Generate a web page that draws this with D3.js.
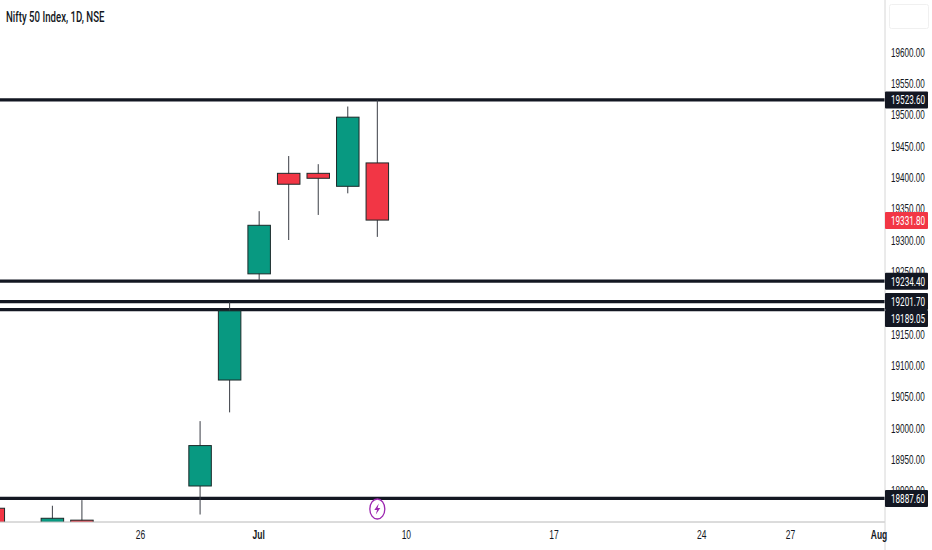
<!DOCTYPE html>
<html>
<head>
<meta charset="utf-8">
<script src="https://cdn.jsdelivr.net/npm/d3@7.9.0/dist/d3.min.js"></script>
<style>
  html, body { margin: 0; padding: 0; background: #fff; overflow: hidden; }
  svg { display: block; font-family: Roboto, sans-serif; }
</style>
</head>
<body>
<svg id="chart" width="932" height="550"></svg>
<script>
const title = 'Nifty 50 Index, 1D, NSE';

// bar number counted from the 26 tick, only bars that show in the window
const barIndex = [-5, -3, -2, 2, 3, 4, 5, 6, 7, 8];
const opens = [18872, 18820, 18853, 18907.5, 19076.6, 19246, 19406.4, 19406.4, 19385.7, 19423];
const closes = [18790, 18856, 18810, 18972, 19187, 19323.5, 19389, 19398.5, 19496, 19331.8];
const highs = [18880, 18876, 18885, 19011, 19201, 19346, 19434, 19421, 19513, 19523.6];
const lows = [18760, 18800, 18790, 18862, 19025, 19236, 19300, 19340, 19374.5, 19305];

const levels = [19523.6, 19234.4, 19201.7, 19189.05, 18887.6];
const lastPrice = 19331.8;

const priceTicks = [19600, 19550, 19500, 19450, 19400, 19350, 19300, 19250, 19200, 19150, 19100, 19050, 19000, 18950, 18900];
const timeTickIndex = [0, 4, 9, 14, 19, 22, 25];
const timeTickLabels = ['26', 'Jul', '10', '17', '24', '27', 'Aug'];
const boldTimeLabels = ['Jul', 'Aug'];
const eventBar = 8;

const width = 932;
const height = 550;
const plotRight = 885;
const plotBottom = 522;

const xScale = d3.scaleLinear().domain([0, 25]).range([141, 879.5]);
const yScale = d3.scaleLinear().domain([19600, 18900]).range([52, 490.7]);

const svg = d3.select('#chart');

// the reference text is narrower than any installed face
function squeeze(selection, factor) {
  selection.each(function () {
    const text = d3.select(this);
    const x = +text.attr('x') || 0;
    const y = +text.attr('y') || 0;
    text.attr('x', 0)
      .attr('y', 0)
      .attr('transform', `translate(${x},${y}) scale(${factor},1)`);
  });
}

svg.append('defs').append('clipPath').attr('id', 'plot')
  .append('rect').attr('width', plotRight).attr('height', plotBottom);

const plot = svg.append('g').attr('clip-path', 'url(#plot)');

// horizontal levels sit under the candles
plot.selectAll('.level')
  .data(levels)
  .join('line')
  .attr('class', 'level')
  .attr('x1', 0)
  .attr('x2', plotRight)
  .attr('y1', (d) => yScale(d))
  .attr('y2', (d) => yScale(d))
  .attr('stroke', '#131722')
  .attr('stroke-width', 3.3);

const candles = plot.selectAll('.candle')
  .data(barIndex.map((bar, i) => ({
    bar, open: opens[i], close: closes[i], high: highs[i], low: lows[i],
  })))
  .join('g')
  .attr('class', 'candle');

candles.append('line')
  .attr('x1', (d) => xScale(d.bar))
  .attr('x2', (d) => xScale(d.bar))
  .attr('y1', (d) => yScale(d.high))
  .attr('y2', (d) => yScale(d.low))
  .attr('stroke', '#3a3d45')
  .attr('stroke-width', 1);

candles.append('rect')
  .attr('x', (d) => xScale(d.bar) - 11.25)
  .attr('width', 22.5)
  .attr('y', (d) => yScale(Math.max(d.open, d.close)))
  .attr('height', (d) => Math.abs(yScale(d.open) - yScale(d.close)))
  .attr('fill', (d) => (d.close >= d.open ? '#089981' : '#f23645'))
  .attr('stroke', '#1c2a2a')
  .attr('stroke-width', 1);

// event badge
const badge = plot.append('g')
  .attr('transform', `translate(${xScale(eventBar)},509)`);
badge.append('ellipse')
  .attr('rx', 7.5)
  .attr('ry', 10)
  .attr('fill', '#fff')
  .attr('stroke', '#9c27b0')
  .attr('stroke-width', 1.3);
badge.append('path')
  .attr('d', 'M1.5,-5.5 L-3,1 L-0.3,1 L-1.5,5.5 L3,-1 L0.3,-1 Z')
  .attr('fill', '#9c27b0');

// axis frame
svg.append('line')
  .attr('x1', 0).attr('x2', plotRight)
  .attr('y1', plotBottom).attr('y2', plotBottom)
  .attr('stroke', '#b8b8b8');
svg.append('line')
  .attr('x1', plotRight).attr('x2', plotRight)
  .attr('y1', 0).attr('y2', height)
  .attr('stroke', '#d6d6d6');

// empty box top right
svg.append('rect')
  .attr('x', 889.5).attr('y', 4.5)
  .attr('width', 39).attr('height', 24)
  .attr('rx', 2)
  .attr('fill', '#fff')
  .attr('stroke', '#f0f0f0');

const yAxis = d3.axisRight(yScale)
  .tickValues(priceTicks)
  .tickSize(0)
  .tickPadding(6)
  .tickFormat(d3.format('.2f'));

const yG = svg.append('g')
  .attr('transform', `translate(${plotRight},0)`)
  .call(yAxis);
yG.select('.domain').remove();
yG.selectAll('text')
  .attr('fill', '#131722')
  .style('font-size', '12.5px')
  .call(squeeze, 0.65);

const xAxis = d3.axisBottom(xScale)
  .tickValues(timeTickIndex)
  .tickSize(0)
  .tickPadding(8)
  .tickFormat((d) => timeTickLabels[timeTickIndex.indexOf(d)]);

const xG = svg.append('g')
  .attr('transform', `translate(-1,${plotBottom})`)
  .call(xAxis);
xG.select('.domain').remove();
xG.selectAll('text')
  .attr('fill', '#131722')
  .style('font-size', '12.5px')
  .style('font-weight', (d) => (boldTimeLabels.includes(timeTickLabels[timeTickIndex.indexOf(d)]) ? 700 : 400))
  .call(squeeze, 0.68);

// price labels, pushed down when they would collide
const labelHeight = 17;
const labelRows = [];
let lastCenter = -Infinity;
levels.slice().sort(d3.descending).forEach((value) => {
  const center = Math.max(yScale(value), lastCenter + labelHeight);
  labelRows.push({ value, center, fill: '#131722' });
  lastCenter = center;
});
labelRows.push({ value: lastPrice, center: yScale(lastPrice) + 0.5, fill: '#f23645' });

const labels = svg.append('g').selectAll('g')
  .data(labelRows)
  .join('g')
  .attr('transform', (d) => `translate(${plotRight},${d.center})`);

labels.append('rect')
  .attr('y', -labelHeight / 2)
  .attr('width', 43)
  .attr('height', labelHeight)
  .attr('rx', 1)
  .attr('fill', (d) => d.fill);

labels.append('text')
  .attr('x', 6)
  .attr('dy', '0.36em')
  .attr('fill', '#fff')
  .style('font-size', '12.5px')
  .text((d) => d3.format('.2f')(d.value))
  .call(squeeze, 0.65);

svg.append('text')
  .attr('x', 6)
  .attr('y', 22)
  .attr('fill', '#131722')
  .style('font-size', '14px')
  .style('font-weight', 500)
  .text(title)
  .call(squeeze, 0.69);
</script>
</body>
</html>
